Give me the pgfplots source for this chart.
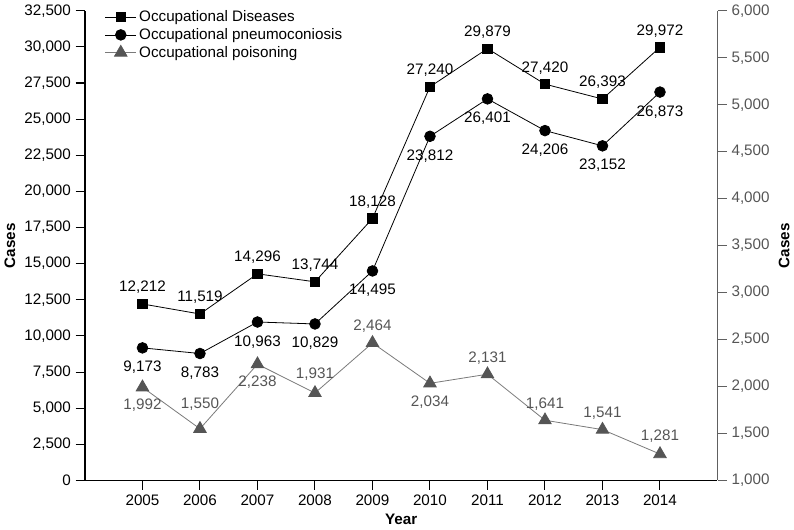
\documentclass[border=0pt]{standalone}
\usepackage{pgfplots}
\pgfplotsset{compat=1.18}
\usepackage{pgfplotstable}
\usepackage{fontspec}
\setmainfont{Liberation Sans}
\definecolor{pgray}{HTML}{555555}
\definecolor{lgray}{HTML}{7A7A7A}
\definecolor{agray}{HTML}{606060}

\pgfplotstableread{
x y label dy
2005 12212 12,212 9
2006 11519 11,519 9
2007 14296 14,296 9
2008 13744 13,744 9
2009 18128 18,128 9
2010 27240 27,240 9
2011 29879 29,879 9
2012 27420 27,420 9
2013 26393 26,393 9
2014 29972 29,972 9
}\diseases
\pgfplotstableread{
x y label dy
2005 9173 9,173 -18
2006 8783 8,783 -18
2007 10963 10,963 -18
2008 10829 10,829 -18
2009 14495 14,495 -18
2010 23812 23,812 -18
2011 26401 26,401 -18
2012 24206 24,206 -18
2013 23152 23,152 -18
2014 26873 26,873 -18
}\pneumo
\pgfplotstableread{
x y label dy
2005 1992 1,992 -17
2006 1550 1,550 15
2007 2238 2,238 -17
2008 1931 1,931 11
2009 2464 2,464 9
2010 2034 2,034 -17
2011 2131 2,131 9
2012 1641 1,641 9
2013 1541 1,541 9
2014 1281 1,281 10
}\poison

\begin{document}
\begin{tikzpicture}[font=\fontsize{11.4}{13.6}\selectfont]
\pgfplotsset{
  common/.style={
    width=474pt, height=352pt, scale only axis,
    xmin=2004, xmax=2015,
    tick align=outside, major tick length=7pt,
    scaled y ticks=false,
    /pgf/number format/assume math mode=true,
    yticklabel style={/pgf/number format/1000 sep={,}},
    clip=false,
    x axis line style={-},
    y axis line style={-},
  },
  lbl/.style={
    nodes near coords,
    point meta=explicit symbolic,
    visualization depends on={\thisrow{dy} \as \dy},
    every node near coord/.append style={anchor=base, yshift=\dy pt, inner sep=0pt, font=\fontsize{11.4}{13.6}\selectfont},
  },
  legend image code/.code={\draw[mark repeat=2,mark phase=2] plot coordinates {(0pt,0pt) (11.5pt,0pt) (23pt,0pt)};},
}
\begin{axis}[common,
  axis y line*=left, axis x line*=bottom,
  ymin=0, ymax=32500, ytick distance=2500,
  xtick={2005,...,2014},
  xticklabel style={/pgf/number format/1000 sep={}},
  x axis line style={black, line width=1.1pt},
  y axis line style={black, line width=1.1pt},
  tick style={black, line width=0.8pt},
  xlabel={\textbf{Year}}, ylabel={\textbf{Cases}},
  legend style={draw=none, fill=none, at={(0.025,1.012)}, anchor=north west, row sep=-0.5pt, font=\fontsize{11.4}{13.6}\selectfont},
  legend cell align=left,
]
\addplot[black, line width=0.6pt, mark=square*, mark size=3.5pt, mark options={solid}, lbl, every node near coord/.append style={black}]
  table[x=x, y=y, meta=label] {\diseases};
\addlegendentry{Occupational Diseases}
\addplot[black, line width=0.6pt, mark=*, mark size=4pt, lbl, every node near coord/.append style={black}]
  table[x=x, y=y, meta=label] {\pneumo};
\addlegendentry{Occupational pneumoconiosis}
\addlegendimage{lgray, line width=0.6pt, mark=triangle*, mark size=5.4pt, mark options={pgray, fill=pgray}}
\addlegendentry{Occupational poisoning}
\end{axis}
\begin{axis}[common,
  axis y line*=right, axis x line=none,
  ymin=1000, ymax=6000, ytick distance=500,
  y axis line style={agray, line width=1.1pt},
  ytick style={agray, line width=0.8pt},
  yticklabel style={text=pgray},
  ylabel={\textbf{Cases}},
]
\addplot[lgray, line width=0.6pt, mark=triangle*, mark size=5.4pt, mark options={pgray, fill=pgray}, lbl, every node near coord/.append style={text=pgray}]
  table[x=x, y=y, meta=label] {\poison};
\end{axis}
\end{tikzpicture}
\end{document}
